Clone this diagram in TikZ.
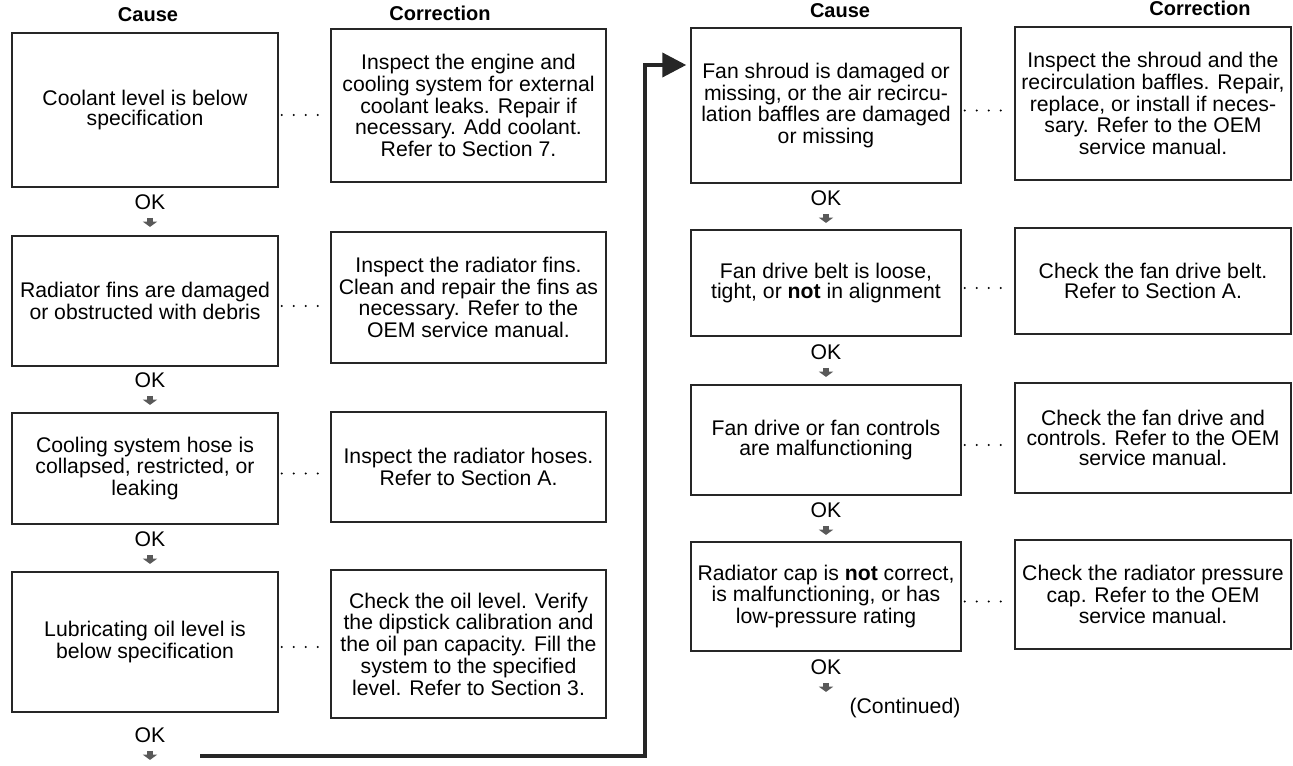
\documentclass[tikz,border=0pt]{standalone}
\usepackage{fontspec}
\setmainfont{Liberation Sans}
\usetikzlibrary{arrows.meta}
\tikzset{>=stealth}
\tikzset{
  cause/.style={draw=black!85, line width=0.75pt, minimum width=133pt, align=center, inner sep=0pt,
    font=\fontsize{10.6}{9.8}\selectfont},
  fix/.style={cause, minimum width=137.5pt},
  head/.style={font=\fontsize{10}{12}\bfseries},
  ok/.style={inner sep=0pt, font=\fontsize{10.6}{12}\selectfont},
  okarrow/.style={line width=2.6pt, black!65, -{Triangle[width=7pt,length=2.6pt]}},
  leader/.style={line width=1.2pt, line cap=round, dash pattern=on 0pt off 6pt, shorten <=1.5pt, shorten >=6pt},
  feed/.style={line width=2pt, black!85, -{Triangle[width=12pt,length=12pt]}, shorten >=2pt}
}

\begin{document}
\begin{tikzpicture}[x=0.5pt, y=-0.5pt]
  \useasboundingbox (0,0) rectangle (1293,765);

  % column headings
  \node[head] (hc1) at (148,15) {Cause};
  \node[head] (hk1) at (440,13) {Correction};
  \node[head] (hc2) at (840,11) {Cause};
  \node[head] (hk2) at (1200,8) {Correction};

  % left half
  \node[cause, minimum height=77pt] (c1) at (145,110) {Coolant level is below\\specification};
  \node[fix, minimum height=76.5pt] (k1) at (468.5,105.5) {Inspect the engine and\\cooling system for external\\coolant leaks. Repair if\\necessary. Add coolant.\\Refer to Section 7.};

  \node[cause, minimum height=65pt] (c2) at (145,301) {Radiator fins are damaged\\or obstructed with debris};
  \node[fix, minimum height=65.5pt] (k2) at (468.5,297.5) {Inspect the radiator fins.\\Clean and repair the fins as\\necessary. Refer to the\\OEM service manual.};

  \node[cause, minimum height=55.5pt] (c3) at (145,468.5) {Cooling system hose is\\collapsed, restricted, or\\leaking};
  \node[fix, minimum height=55pt] (k3) at (468.5,467) {Inspect the radiator hoses.\\Refer to Section A.};

  \node[cause, minimum height=70pt] (c4) at (145,642) {Lubricating oil level is\\below specification};
  \node[fix, minimum height=74pt] (k4) at (468.5,644) {Check the oil level. Verify\\the dipstick calibration and\\the oil pan capacity. Fill the\\system to the specified\\level. Refer to Section 3.};

  % right half
  \node[cause, minimum height=77.5pt, minimum width=135pt] (c5) at (826,105.5) {Fan shroud is damaged or\\missing, or the air recircu-\\lation baffles are damaged\\or missing};
  \node[fix, minimum height=76.5pt, minimum width=138pt] (k5) at (1153,103.5) {Inspect the shroud and the\\recirculation baffles. Repair,\\replace, or install if neces-\\sary. Refer to the OEM\\service manual.};

  \node[cause, minimum height=53pt, minimum width=135pt] (c6) at (826,283) {Fan drive belt is loose,\\tight, or \textbf{not} in alignment};
  \node[fix, minimum height=53pt, minimum width=138pt] (k6) at (1153,281) {Check the fan drive belt.\\Refer to Section A.};

  \node[cause, minimum height=55pt, minimum width=135pt] (c7) at (826,440) {Fan drive or fan controls\\are malfunctioning};
  \node[fix, minimum height=55pt, minimum width=138pt] (k7) at (1153,438) {Check the fan drive and\\controls. Refer to the OEM\\service manual.};

  \node[cause, minimum height=54.5pt, minimum width=135pt] (c8) at (826,596.5) {Radiator cap is \textbf{not} correct,\\is malfunctioning, or has\\low-pressure rating};
  \node[fix, minimum height=54.5pt, minimum width=138pt] (k8) at (1153,594.5) {Check the radiator pressure\\cap. Refer to the OEM\\service manual.};

  % dotted leaders cause -> correction
  \foreach \i in {1,...,8}
    \draw[leader] ([yshift=-2.5pt]c\i.east) -- ([yshift=-2.5pt]c\i.east -| k\i.west);

  % OK marks under each cause
  \node[ok] (ok1) at (150,202) {OK};
  \node[ok] (ok2) at (150,380) {OK};
  \node[ok] (ok3) at (150,539) {OK};
  \node[ok] (ok4) at (150,735) {OK};
  \node[ok] (ok5) at (826,198) {OK};
  \node[ok] (ok6) at (826,352) {OK};
  \node[ok] (ok7) at (826,510) {OK};
  \node[ok] (ok8) at (826,667) {OK};
  \foreach \i in {1,...,8}
    \draw[okarrow] ([yshift=-4pt]ok\i.south) -- ([yshift=-8.5pt]ok\i.south);

  \node[ok] (cont) at (905,708) {(Continued)};

  % carry over to the second column
  \coordinate (loopstart) at (200,756);
  \coordinate (turn) at (645,65);
  \draw[feed] (loopstart) -| (turn) -- (turn -| c5.west);

\end{tikzpicture}
\end{document}
